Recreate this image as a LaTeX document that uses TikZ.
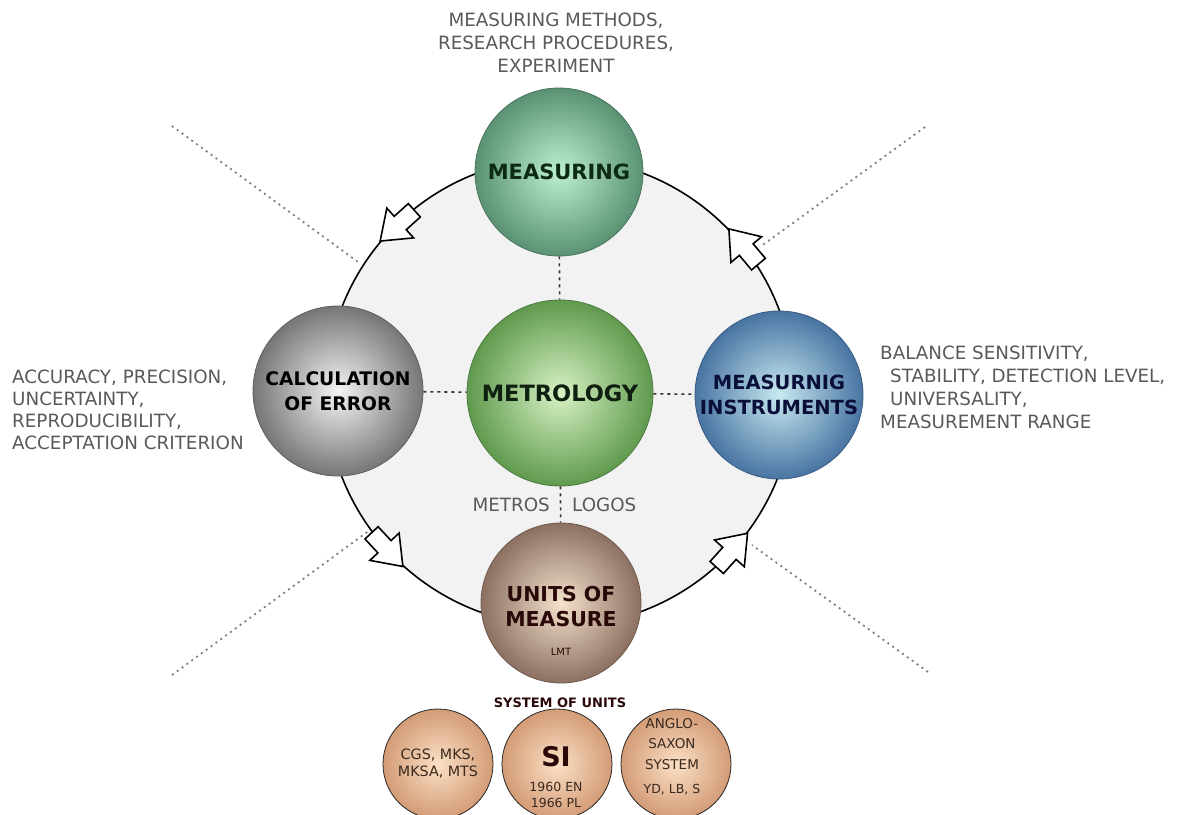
\documentclass[tikz,border=0pt]{standalone}
\usepackage{fontspec}
\setmainfont{DejaVu Sans}
\usetikzlibrary{positioning}
\definecolor{ringfill}{HTML}{F2F2F2}
\definecolor{sidegray}{HTML}{595959}
\definecolor{measIn}{HTML}{BDEFD2}
\definecolor{measOut}{HTML}{5A9273}
\definecolor{measTxt}{HTML}{0C2A14}
\definecolor{metroIn}{HTML}{D8F2C4}
\definecolor{metroOut}{HTML}{5F9A4E}
\definecolor{metroTxt}{HTML}{102010}
\definecolor{errIn}{HTML}{F4F4F4}
\definecolor{errOut}{HTML}{767676}
\definecolor{instIn}{HTML}{C8E9F0}
\definecolor{instOut}{HTML}{4874A2}
\definecolor{instTxt}{HTML}{0A0F3A}
\definecolor{unitIn}{HTML}{F4E2CC}
\definecolor{unitOut}{HTML}{8C7062}
\definecolor{unitTxt}{HTML}{2A0808}
\definecolor{sysIn}{HTML}{FBE0C6}
\definecolor{sysOut}{HTML}{D39C76}
\definecolor{sysTxt}{HTML}{3A2A20}
\tikzset{
  ball/.style={circle, inner sep=0pt, minimum size=#1, line width=0.8pt, align=center},
  conn/.style={draw=black!80, line width=1.6pt, dash pattern=on 3pt off 4pt},
  diag/.style={draw=black!50, line width=1.8pt, dash pattern=on 2pt off 4pt},
  sidetext/.style={text=sidegray, inner sep=0pt, font=\fontsize{18.3}{23}\selectfont},
  flowarr/.pic={\draw[fill=white, line width=1.6pt, line join=miter]
    (0,0) -- (-27,20) -- (-27,9) -- (-46,9) -- (-46,-9) -- (-27,-9) -- (-27,-20) -- cycle;}
}
\begin{document}
\begin{tikzpicture}[x=1pt,y=-1pt]
\useasboundingbox (0,0) rectangle (1188,814);
\node[circle, draw, fill=ringfill, line width=1.6pt, minimum size=468pt, inner sep=0pt] (ring) at (560,392) {};
% dotted diagonals
\coordinate (ulA) at (172,126); \coordinate (ulB) at (358,262);
\coordinate (urA) at (925,127); \coordinate (urB) at (760,247);
\coordinate (llA) at (172,675); \coordinate (llB) at (370,530);
\coordinate (lrA) at (928,672); \coordinate (lrB) at (752,545);
\draw[diag] (ulA) -- (ulB);
\draw[diag] (urA) -- (urB);
\draw[diag] (llA) -- (llB);
\draw[diag] (lrA) -- (lrB);
% flow arrows on the ring
\pic[rotate=222] at (ring.140) {flowarr};
\pic[rotate=130] at (ring.44.5) {flowarr};
\pic[rotate=-47] at (ring.228.5) {flowarr};
\pic[rotate=48] at (ring.-37) {flowarr};
% spheres
\node[ball=168pt, inner color=measIn, outer color=measOut, draw=measOut!80!black, text=measTxt,
  font=\bfseries\fontsize{21}{24}\selectfont] (meas) at (559,172) {MEASURING};
\node[ball=186pt, inner color=metroIn, outer color=metroOut, draw=metroOut!80!black, text=metroTxt,
  font=\bfseries\fontsize{22.5}{26}\selectfont] (metro) at (560,393) {METROLOGY};
\node[ball=170pt, inner color=errIn, outer color=errOut, draw=errOut!80!black, text=black,
  font=\bfseries\fontsize{18.7}{24.5}\selectfont] (err) at (338,391) {CALCULATION\\OF ERROR};
\node[ball=168pt, inner color=instIn, outer color=instOut, draw=instOut!80!black, text=instTxt,
  font=\bfseries\fontsize{19.5}{25.5}\selectfont] (inst) at (779,395) {MEASURNIG\\INSTRUMENTS};
\node[ball=160pt, inner color=unitIn, outer color=unitOut, draw=unitOut!80!black] (unit) at (561,603) {};
\node[text=unitTxt, align=center, font=\bfseries\fontsize{20.5}{25}\selectfont] (unitlbl) at (561,607) {UNITS OF\\MEASURE};
\node[text=unitTxt, font=\fontsize{10}{12}\selectfont] (lmt) at (561,652) {LMT};
% connectors
\draw[conn] (meas) -- (metro);
\draw[conn] (err) -- (metro);
\draw[conn] (metro) -- (inst);
\draw[conn] (metro) -- (unit);
\node[sidetext, anchor=east] (metros) at (550,505) {METROS};
\node[sidetext, anchor=west] (logos) at (572,505) {LOGOS};
% side texts
\node[sidetext, align=center, anchor=north] (meastxt) at (556,13) {MEASURING METHODS,\\RESEARCH PROCEDURES,\\EXPERIMENT};
\node[sidetext, align=left, anchor=north west, font=\fontsize{18.3}{22}\selectfont] (errtxt) at (12,370) {ACCURACY, PRECISION,\\UNCERTAINTY,\\REPRODUCIBILITY,\\ACCEPTATION CRITERION};
\node[sidetext, align=left, anchor=north west] (insttxt) at (880,346) {BALANCE SENSITIVITY,\\\hspace{10pt}STABILITY, DETECTION LEVEL,\\\hspace{10pt}UNIVERSALITY,\\MEASUREMENT RANGE};
% system of units
\node[text=unitTxt, font=\bfseries\fontsize{13}{15}\selectfont] (systitle) at (560,703) {SYSTEM OF UNITS};
\node[ball=110pt, inner color=sysIn, outer color=sysOut, draw=black!85, text=sysTxt,
  font=\fontsize{14.3}{17}\selectfont] (cgs) at (438,764) {CGS, MKS,\\MKSA, MTS};
\node[ball=110pt, inner color=sysIn, outer color=sysOut, draw=black!85] (si) at (557,764) {};
\node[text=unitTxt, font=\bfseries\fontsize{27}{29}\selectfont] (silbl) at (556,757) {SI};
\node[text=sysTxt, align=center, font=\fontsize{12.5}{15.5}\selectfont] (siyears) at (556,795) {1960 EN\\1966 PL};
\node[ball=110pt, inner color=sysIn, outer color=sysOut, draw=black!85] (anglo) at (676,764) {};
\node[text=sysTxt, align=center, font=\fontsize{13.5}{20.5}\selectfont] (anglolbl) at (672,744) {ANGLO-\\SAXON\\SYSTEM};
\node[text=sysTxt, font=\fontsize{12.5}{14}\selectfont] (anglounits) at (672,790) {YD, LB, S};
\end{tikzpicture}
\end{document}
